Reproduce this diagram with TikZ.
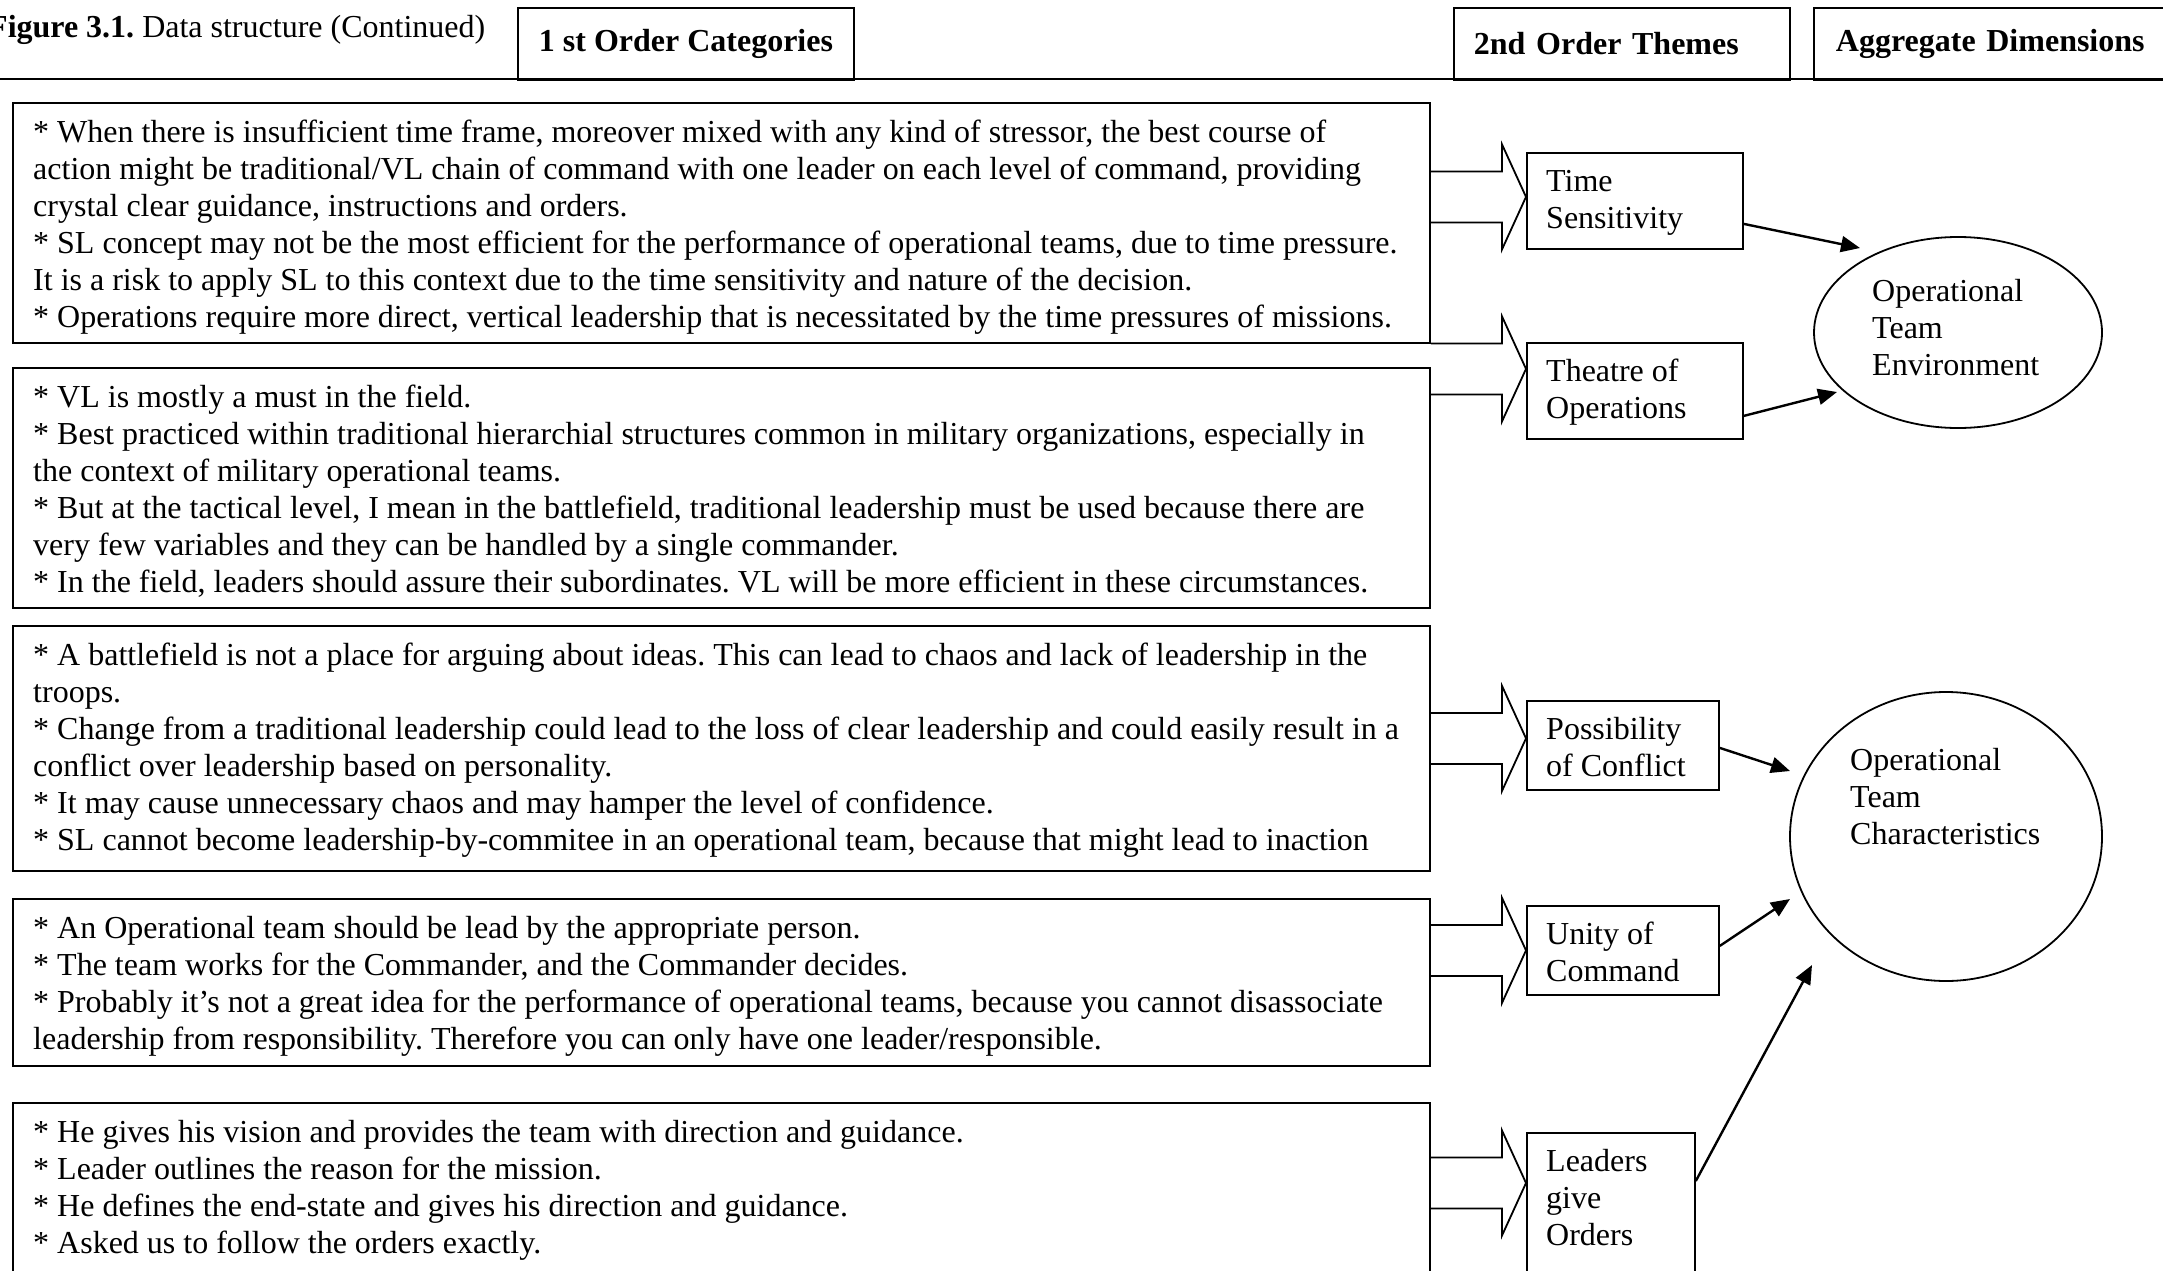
\documentclass[tikz,border=0pt]{standalone}
\usepackage{fontspec}
\setmainfont{Liberation Serif}
\usetikzlibrary{arrows.meta,calc,shapes.geometric}
\frenchspacing

\tikzset{
  frame/.style={draw, line width=1.8pt},
  txt/.style={font=\fontsize{32pt}{37pt}\selectfont},
  panel/.style={frame, anchor=north west, inner sep=0pt, minimum width=1417pt},
  body/.style={txt, align=left, anchor=north west, inner sep=0pt},
  head/.style={frame, anchor=north west, font=\fontsize{32pt}{37pt}\selectfont\bfseries,
    inner xsep=21pt, inner ysep=0pt, minimum height=72pt, align=left},
  theme/.style={frame, anchor=north west, inner sep=0pt},
  dimension/.style={frame, ellipse, inner sep=0pt},
  link/.style={line width=2.4pt, -{Triangle[length=19pt,width=16pt]}},
}

% block arrow from a panel to the tip point #2
\newcommand\blockarrow[2]{%
  \coordinate (tip) at #2;
  \coordinate (tail) at (#1.east |- tip);
  \draw[frame, line join=miter]
    ($(tail)+(0,-25.5)$) -- ($(tip)+(-24,-25.5)$) -- ($(tip)+(-24,-52.5)$) -- (tip)
    -- ($(tip)+(-24,52.5)$) -- ($(tip)+(-24,25.5)$) -- ($(tail)+(0,25.5)$);
}

\begin{document}
\begin{tikzpicture}[x=1pt,y=-1pt]
\useasboundingbox (0,0) rectangle (2163,1271);
\clip (0,0) rectangle (2163,1271);

% title row
\node[txt, anchor=base west, inner sep=0pt] (title) at (-12,38)
  {\textbf{Figure 3.1.} Data structure (Continued)};
\coordinate (ruleL) at (0,79);
\coordinate (ruleR) at (2163,79);
\draw[frame] (ruleL) -- (ruleR);
\node[head, minimum width=336pt, align=center] (h1) at (517,7) {1 st Order Categories};
\node[head, text width=296pt, inner xsep=20pt] (h2) at (1453,7) {2nd Order Themes};
\node[head, text width=330pt, inner xsep=22pt] (h3) at (1813,7) {Aggregate Dimensions};

% first order categories
\node[panel, minimum height=240pt] (t1) at (12,102) {};
\node[body] (t1x) at ($(t1.north west)+(21,14)$) {\strut * When there is insufficient time frame, moreover mixed with any kind of stressor, the best course of\\
action might be traditional/VL chain of command with one leader on each level of command, providing\\
crystal clear guidance, instructions and orders.\\
* SL concept may not be the most efficient for the performance of operational teams, due to time pressure.\\
It is a risk to apply SL to this context due to the time sensitivity and nature of the decision.\\
* Operations require more direct, vertical leadership that is necessitated by the time pressures of missions.};

\node[panel, minimum height=240pt] (t2) at (12,367) {};
\node[body] (t2x) at ($(t2.north west)+(21,14)$) {\strut * VL is mostly a must in the field.\\
* Best practiced within traditional hierarchial structures common in military organizations, especially in\\
the context of military operational teams.\\
* But at the tactical level, I mean in the battlefield, traditional leadership must be used because there are\\
very few variables and they can be handled by a single commander.\\
* In the field, leaders should assure their subordinates. VL will be more efficient in these circumstances.};

\node[panel, minimum height=245pt] (t3) at (12,625) {};
\node[body] (t3x) at ($(t3.north west)+(21,14)$) {\strut * A battlefield is not a place for arguing about ideas. This can lead to chaos and lack of leadership in the\\
troops.\\
* Change from a traditional leadership could lead to the loss of clear leadership and could easily result in a\\
conflict over leadership based on personality.\\
* It may cause unnecessary chaos and may hamper the level of confidence.\\
* SL cannot become leadership-by-commitee in an operational team, because that might lead to inaction};

\node[panel, minimum height=167pt] (t4) at (12,898) {};
\node[body] (t4x) at ($(t4.north west)+(21,14)$) {\strut * An Operational team should be lead by the appropriate person.\\
* The team works for the Commander, and the Commander decides.\\
* Probably it’s not a great idea for the performance of operational teams, because you cannot disassociate\\
leadership from responsibility. Therefore you can only have one leader/responsible.};

\node[panel, minimum height=220pt] (t5) at (12,1102) {};
\node[body] (t5x) at ($(t5.north west)+(21,14)$) {\strut * He gives his vision and provides the team with direction and guidance.\\
* Leader outlines the reason for the mission.\\
* He defines the end-state and gives his direction and guidance.\\
* Asked us to follow the orders exactly.};

% second order themes
\node[theme, minimum width=216pt, minimum height=96pt] (ts) at (1526,152) {};
\node[body] (tsx) at ($(ts.north west)+(20,13)$) {\strut Time\\Sensitivity};
\node[theme, minimum width=216pt, minimum height=96pt] (th) at (1526,342) {};
\node[body] (thx) at ($(th.north west)+(20,13)$) {\strut Theatre of\\Operations};
\node[theme, minimum width=192pt, minimum height=89pt] (pc) at (1526,700) {};
\node[body] (pcx) at ($(pc.north west)+(20,13)$) {\strut Possibility\\of Conflict};
\node[theme, minimum width=192pt, minimum height=89pt] (uc) at (1526,905) {};
\node[body] (ucx) at ($(uc.north west)+(20,13)$) {\strut Unity of\\Command};
\node[theme, minimum width=168pt, minimum height=200pt] (lo) at (1526,1132) {};
\node[body] (lox) at ($(lo.north west)+(20,13)$) {\strut Leaders\\give\\Orders};

% block arrows
\blockarrow{t1}{($(ts.west)+(0,-4)$)}
\blockarrow{t2}{($(th.west)+(0,-22)$)}
\blockarrow{t3}{($(pc.west)+(0,-7)$)}
\blockarrow{t4}{($(uc.west)+(0,0)$)}
\blockarrow{t5}{($(lo.north west)+(0,51)$)}

% aggregate dimensions
\node[dimension, minimum width=288pt, minimum height=191pt] (ote) at (1958,332.5) {};
\node[body] (otex) at ($(ote.center)+(-86,-57)$) {\strut Operational\\Team\\Environment};
\node[dimension, minimum width=312pt, minimum height=289pt] (otc) at (1946,836.5) {};
\node[body] (otcx) at ($(otc.center)+(-96,-92)$) {\strut Operational\\Team\\Characteristics};

% theme to dimension links
\draw[link] ($(ts.east)+(0,23)$) -- ($(ote.center)+(-98,-84.5)$);
\draw[link] ($(th.east)+(0,25)$) -- ($(ote.center)+(-121,59.5)$);
\draw[link] ($(pc.east)+(0,2.5)$) -- ($(otc.center)+(-156,-65.5)$);
\draw[link] ($(uc.east)+(0,-4.5)$) -- ($(otc.center)+(-156,62.5)$);
\draw[link] ($(lo.north east)+(0,49)$) -- ($(otc.center)+(-134,128.5)$);
\end{tikzpicture}
\end{document}
